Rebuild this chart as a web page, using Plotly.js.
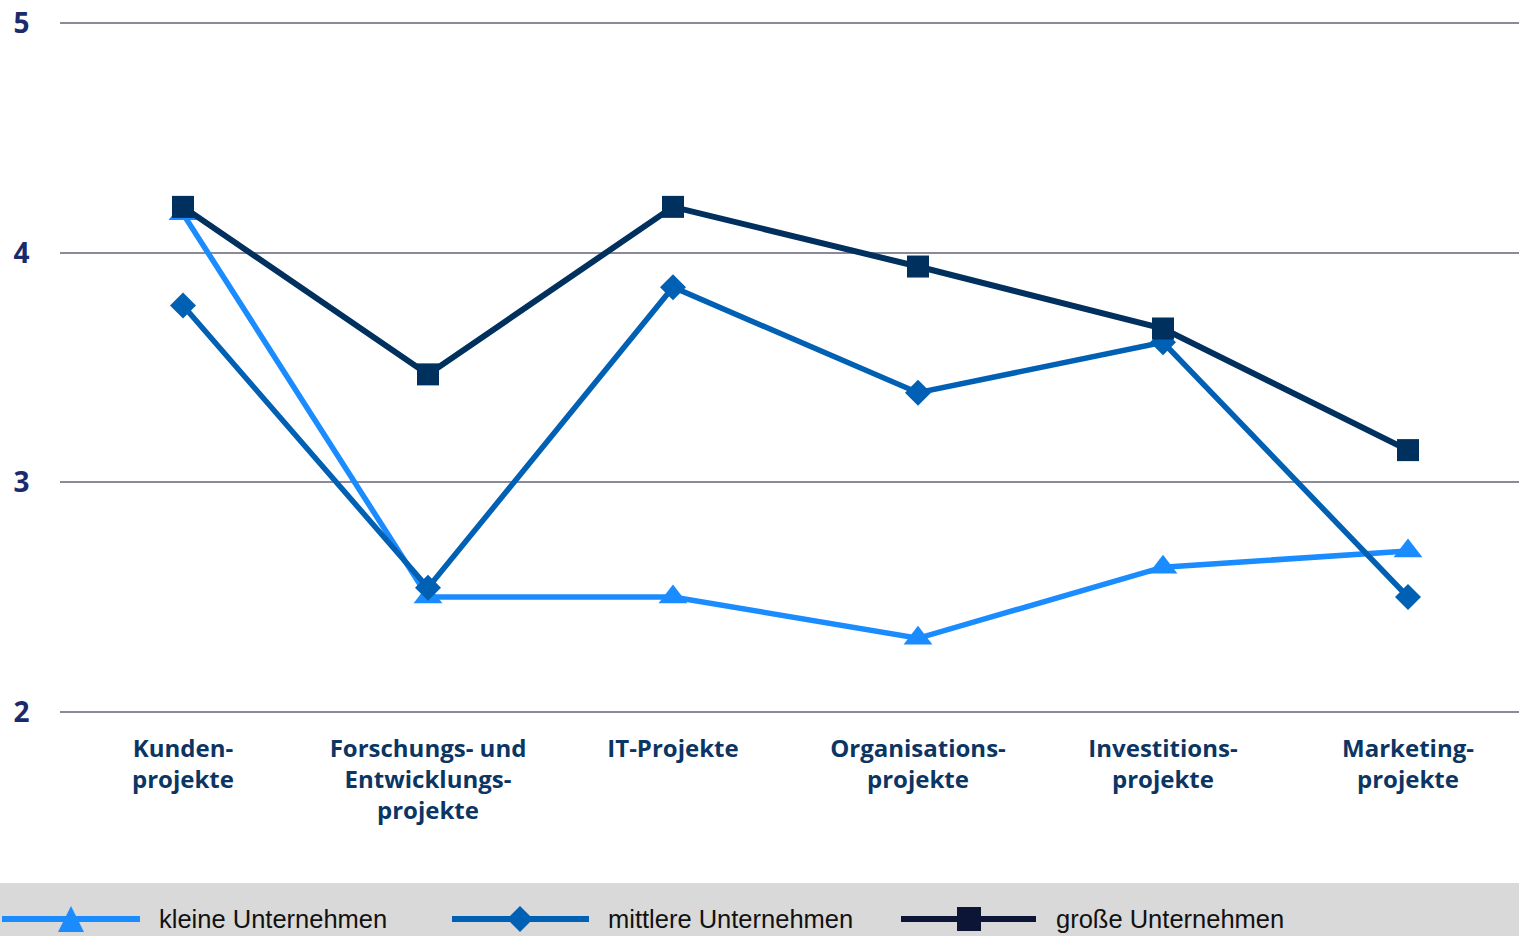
<!DOCTYPE html>
<html>
<head>
<meta charset="utf-8">
<script src="https://cdn.plot.ly/plotly-3.0.1.min.js"></script>
<style>
html,body{margin:0;padding:0;overflow:hidden;background:#fff;}
#chart{width:1519px;height:936px;}
</style>
</head>
<body>
<div id="chart"></div>
<script>
// ---- data ----
const categories = ['Kunden-<br>projekte', 'Forschungs- und<br>Entwicklungs-<br>projekte', 'IT-Projekte', 'Organisations-<br>projekte', 'Investitions-<br>projekte', 'Marketing-<br>projekte'];
const seriesNames = ['kleine Unternehmen', 'mittlere Unternehmen', 'große Unternehmen'];
const kleine   = [4.17, 2.50, 2.50, 2.32, 2.63, 2.70];
const mittlere = [3.77, 2.54, 3.85, 3.39, 3.61, 2.50];
const grosse   = [4.20, 3.47, 4.20, 3.94, 3.67, 3.14];
const yTicks = [2, 3, 4, 5];

// ---- layout helpers (pixel -> paper) ----
const W = 1519, H = 936;
const L = 60, T = 21, B = 222, R = 0;
const pw = W - L - R, ph = H - T - B;
const px = p => (p - L) / pw;
const py = p => (H - B - p) / ph;

const cLight = '#1a8cff', cMid = '#0060b4', cDark = '#00305e';
const idx = categories.map((_, i) => i);

const traces = [
  {x: idx, y: kleine, name: seriesNames[0], mode: 'lines+markers',
   line: {color: cLight, width: 5.5}, marker: {symbol: 'triangle-up', size: 25, color: cLight}},
  {x: idx, y: mittlere, name: seriesNames[1], mode: 'lines+markers',
   line: {color: cMid, width: 5.5}, marker: {symbol: 'diamond', size: 20, color: cMid}},
  {x: idx, y: grosse, name: seriesNames[2], mode: 'lines+markers',
   line: {color: cDark, width: 6}, marker: {symbol: 'square', size: 22, color: cDark}}
];

// legend drawn as decoration
const legY = 919;
const legItems = [
  {x0: 2, x1: 140, mx: 71, tx: 157, color: cLight, sym: 'tri'},
  {x0: 452, x1: 589, mx: 520, tx: 606, color: cMid, sym: 'dia'},
  {x0: 901, x1: 1036, mx: 969, tx: 1054, color: '#0c1536', sym: 'sq'}
];
const shapes = [
  {type: 'rect', xref: 'paper', yref: 'paper', x0: px(0), x1: px(W), y0: py(883), y1: py(H + 5),
   fillcolor: '#d9d9d9', line: {width: 0}, layer: 'below'}
];
const annotations = [];
legItems.forEach((it, i) => {
  shapes.push({type: 'line', xref: 'paper', yref: 'paper', x0: px(it.x0), x1: px(it.x1), y0: py(legY), y1: py(legY),
    line: {color: it.color, width: 6}});
  let path;
  const s = 13;
  if (it.sym === 'tri') {
    path = `M ${px(it.mx - s)} ${py(legY + s)} L ${px(it.mx + s)} ${py(legY + s)} L ${px(it.mx)} ${py(legY - s)} Z`;
  } else if (it.sym === 'dia') {
    path = `M ${px(it.mx - s)} ${py(legY)} L ${px(it.mx)} ${py(legY - s)} L ${px(it.mx + s)} ${py(legY)} L ${px(it.mx)} ${py(legY + s)} Z`;
  } else {
    const q = 12;
    path = `M ${px(it.mx - q)} ${py(legY - q)} L ${px(it.mx + q)} ${py(legY - q)} L ${px(it.mx + q)} ${py(legY + q)} L ${px(it.mx - q)} ${py(legY + q)} Z`;
  }
  shapes.push({type: 'path', xref: 'paper', yref: 'paper', path: path, fillcolor: it.color, line: {width: 0}});
  annotations.push({xref: 'paper', yref: 'paper', x: px(it.tx), y: py(legY), xanchor: 'left', yanchor: 'middle',
    text: seriesNames[i], showarrow: false,
    font: {family: '"Liberation Sans", sans-serif', size: 25.5, color: '#111'}});
});

const layout = {
  width: W, height: H,
  margin: {l: L, r: R, t: T, b: B, pad: 0},
  paper_bgcolor: '#fff', plot_bgcolor: '#fff',
  showlegend: false,
  xaxis: {
    range: [-0.502, -0.502 + pw / 245],
    tickvals: idx, ticktext: categories,
    showgrid: false, zeroline: false, showline: false,
    ticks: 'outside', ticklen: 13, tickcolor: 'rgba(0,0,0,0)',
    tickfont: {family: '"Open Sans", sans-serif', size: 24, color: '#0b3563', weight: 700}
  },
  yaxis: {
    range: [1.99, 5.01],
    tickvals: yTicks,
    showgrid: true, gridcolor: '#8a8a9a', gridwidth: 2,
    zeroline: false, showline: false,
    ticks: 'outside', ticklen: 24, tickcolor: 'rgba(0,0,0,0)',
    tickfont: {family: '"Open Sans", sans-serif', size: 28, color: '#1b2a6b', weight: 700}
  },
  shapes: shapes,
  annotations: annotations
};

Plotly.newPlot('chart', traces, layout, {displayModeBar: false, staticPlot: true});
</script>
</body>
</html>
